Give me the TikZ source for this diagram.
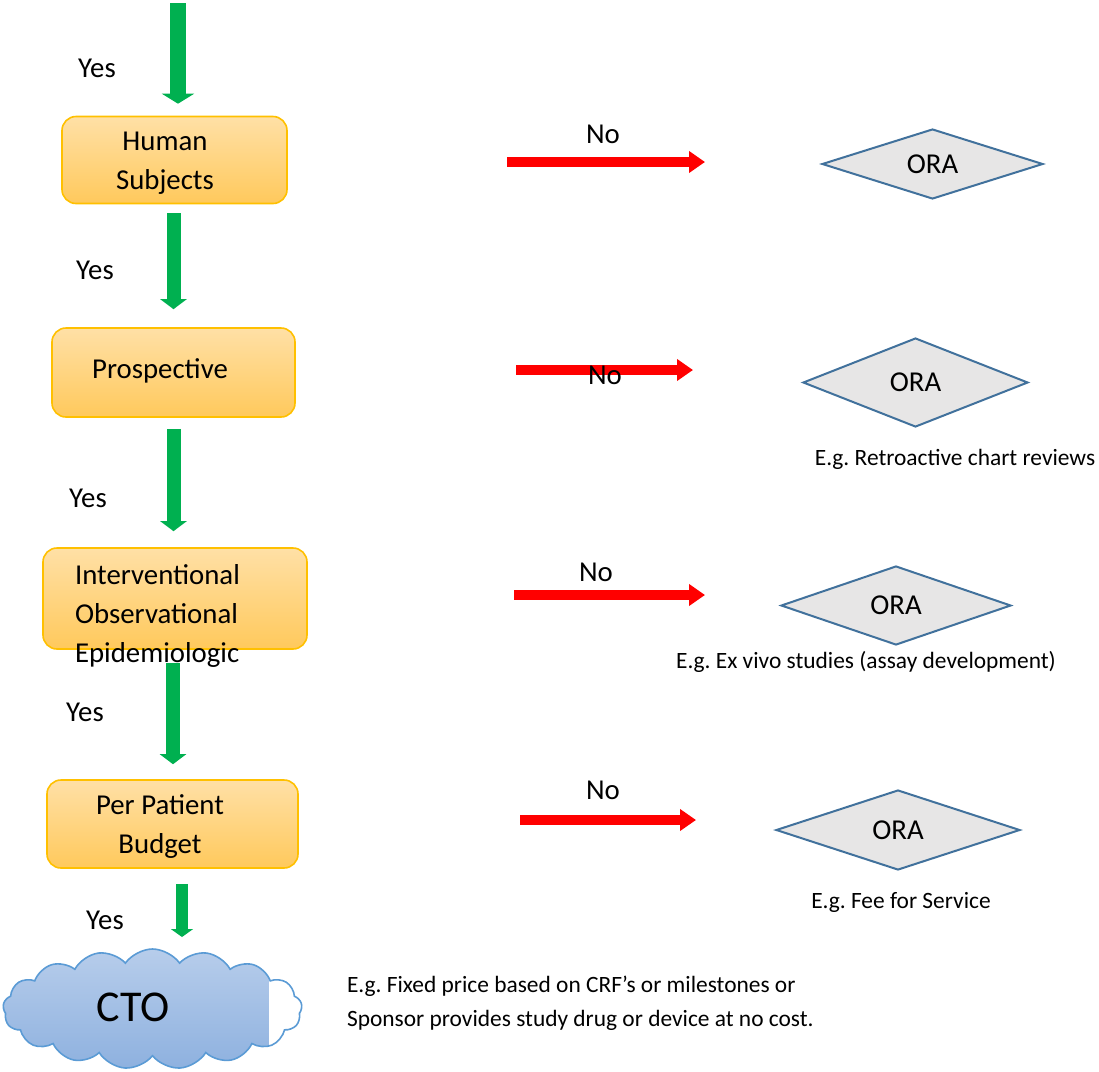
\documentclass[tikz,border=0pt]{standalone}
\usepackage{fontspec}
\setmainfont{Carlito}
\usetikzlibrary{arrows.meta,shapes.geometric,shapes.symbols}
\frenchspacing

\definecolor{yesgreen}{HTML}{00B050}
\definecolor{nored}{HTML}{FF0000}
\definecolor{boxline}{HTML}{FFC000}
\definecolor{boxtop}{HTML}{FFE0A6}
\definecolor{boxbot}{HTML}{FFC95C}
\definecolor{orafill}{HTML}{E7E6E6}
\definecolor{oraline}{HTML}{41719C}
\definecolor{cloudline}{HTML}{5B9BD5}
\definecolor{cloudtop}{HTML}{B7CDEB}
\definecolor{cloudbot}{HTML}{8EB1DF}

\begin{document}
\begin{tikzpicture}[x=0.5pt,y=-0.5pt]
        \tikzset{
            stepbox/.style={draw=boxline, line width=0.8pt, rounded corners=7pt,
                top color=boxtop, bottom color=boxbot, inner sep=0pt},
            ora/.style={diamond, draw=oraline, line width=1pt, fill=orafill,
                inner sep=0pt, aspect=3, font=\fontsize{14.4}{17}\selectfont},
            yesarrow/.style={draw=yesgreen, line width=7pt, -{Triangle[width=13pt,length=5pt]}},
            noarrow/.style={draw=nored, line width=5pt, -{Triangle[width=10.5pt,length=8pt]}},
            lbl/.style={font=\fontsize{14.4}{19.5}\selectfont},
            note/.style={font=\fontsize{11.7}{17}\selectfont}
        }
        \useasboundingbox (0,0) rectangle (1099,1072);

        % main column
        \node[stepbox, minimum width=112.5pt, minimum height=43.5pt] (human) at (174.5,160) {};
        \node[stepbox, minimum width=121.5pt, minimum height=44.5pt] (prosp) at (173.5,372.5) {};
        \node[stepbox, minimum width=132pt, minimum height=50.5pt] (study) at (175,598.5) {};
        \node[stepbox, minimum width=125.5pt, minimum height=44pt] (budget) at (172.5,824) {};
        \node[cloud, cloud puffs=17, cloud puff arc=110, cloud ignores aspect, minimum width=149.5pt, minimum height=60pt,
            draw=cloudline, line width=0.8pt, top color=cloudtop, bottom color=cloudbot,
            path picture={\fill[white] ([xshift=133pt]path picture bounding box.south west)
                rectangle (path picture bounding box.north east);}] (cto) at (152.5,1009) {};

        % yes arrows
        \coordinate (entry) at (178,3);
        \coordinate (ctoin) at (182,937);
        \draw[yesarrow, line width=8pt, -{Triangle[width=16pt,length=5pt]}, shorten >=6pt]
            (entry) -- (human.north -| entry);
        \draw[yesarrow, shorten <=4.5pt, shorten >=9pt] (human.south -| prosp) -- (prosp.north);
        \draw[yesarrow, shorten <=5.5pt, shorten >=8pt] (prosp.south) -- (prosp.south |- study.north);
        \draw[yesarrow, shorten <=6.5pt, shorten >=7.5pt] ([xshift=-1pt]study.south) -- ([xshift=-1pt]study.south |- budget.north);
        \draw[yesarrow, line width=6pt, -{Triangle[width=11pt,length=4pt]}, shorten <=7.5pt]
            (budget.south -| ctoin) -- (ctoin);

        % box texts
        \node[lbl, align=center] (human-t) at (165,163) {Human\\Subjects};
        \node[lbl] (prosp-t) at (160,371) {Prospective};
        \node[lbl, align=left, anchor=west] (study-t) at (68,616) {Interventional\\Observational\\Epidemiologic};
        \node[lbl, align=center] (budget-t) at (160,827) {Per Patient\\Budget};
        \node[font=\fontsize{22}{26}\selectfont] (cto-t) at (133,1007) {CTO};
        \node[lbl] (yes1) at (97,68) {Yes};
        \node[lbl] (yes2) at (95,270) {Yes};
        \node[lbl] (yes3) at (88,498) {Yes};
        \node[lbl] (yes4) at (85,712) {Yes};
        \node[lbl] (yes5) at (105,920) {Yes};

        % ORA column
        \node[ora, minimum width=110.5pt, minimum height=35pt] (ora1) at (932.5,164) {ORA};
        \node[ora, minimum width=112.5pt, minimum height=44.5pt] (ora2) at (915.5,382.5) {ORA};
        \node[ora, minimum width=115pt, minimum height=39.5pt] (ora3) at (896,605.5) {ORA};
        \node[ora, minimum width=122pt, minimum height=40pt] (ora4) at (898,830) {ORA};

        % no arrows
        \coordinate (no1a) at (507,162); \coordinate (no1b) at (705,162);
        \coordinate (no2a) at (516,370); \coordinate (no2b) at (693,370);
        \coordinate (no3a) at (514,595); \coordinate (no3b) at (705,595);
        \coordinate (no4a) at (520,820); \coordinate (no4b) at (696,820);
        \draw[noarrow] (no1a) -- (no1b);
        \draw[noarrow] (no2a) -- (no2b);
        \draw[noarrow] (no3a) -- (no3b);
        \draw[noarrow] (no4a) -- (no4b);
        \node[lbl] (no1) at (603,134) {No};
        \node[lbl] (no2) at (605,375) {No};
        \node[lbl] (no3) at (596,572) {No};
        \node[lbl] (no4) at (603,790) {No};

        % examples
        \node[note] (eg2) at (955,459) {E.g. Retroactive chart reviews};
        \node[note] (eg3) at (866,662) {E.g. Ex vivo studies (assay development)};
        \node[note] (eg4) at (901,902) {E.g. Fee for Service};
        \node[note, align=left, anchor=west] (eg5) at (340,1003)
            {E.g. Fixed price based on CRF’s or milestones or\\Sponsor provides study drug or device at no cost.};
    \end{tikzpicture}
\end{document}
